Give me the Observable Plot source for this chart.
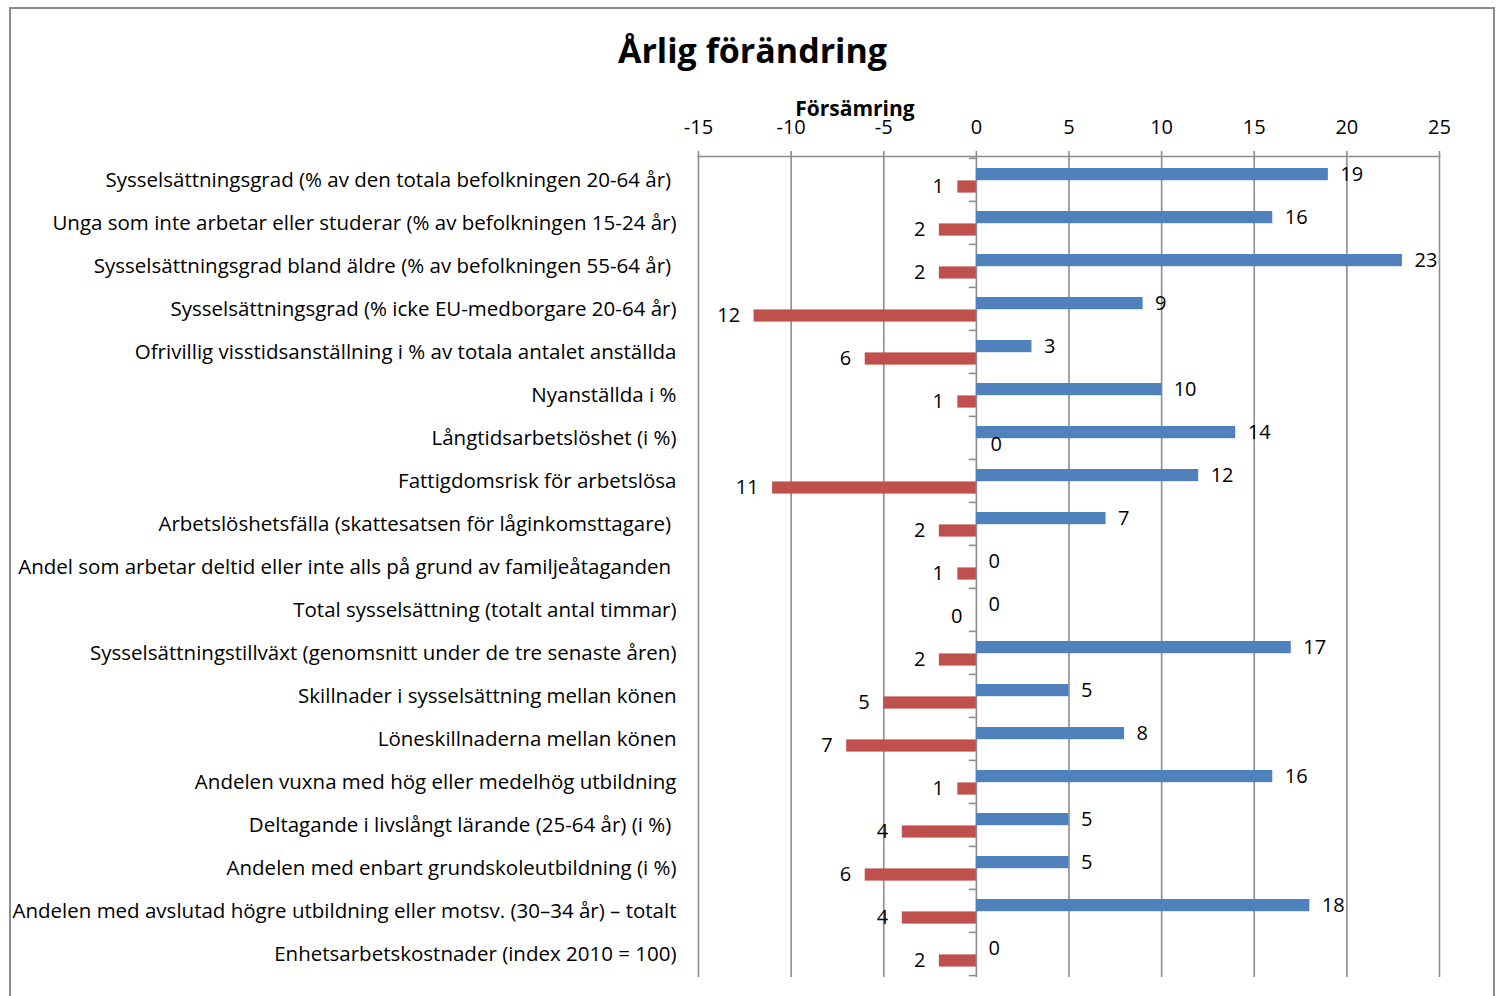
<!DOCTYPE html>
<html><head><meta charset="utf-8">
<script src="https://cdn.jsdelivr.net/npm/d3@7"></script>
<script src="https://cdn.jsdelivr.net/npm/@observablehq/plot@0.6"></script>
<style>
body{margin:0;background:#fff;font-family:"Open Sans",sans-serif;}
#wrap{position:relative;width:1496px;height:996px;overflow:hidden;background:#fff}
#border{position:absolute;left:9px;top:7px;width:1486px;height:1000px;border:2px solid #8c8c8c;box-sizing:border-box}
#title{position:absolute;left:9px;width:1487px;top:33px;text-align:center;font-weight:bold;font-size:34px;line-height:1;color:#000}
#sub{position:absolute;left:755px;width:200px;top:98px;text-align:center;font-weight:bold;font-size:21px;line-height:1;color:#000}
#chart{position:absolute;left:0;top:0}
</style></head>
<body>
<div id="wrap">
  <div id="border"></div>
  <div id="chart"></div>
  <div id="title">Årlig förändring</div>
  <div id="sub">Försämring</div>
</div>
<script>
const categories = [
  "Sysselsättningsgrad (% av den totala befolkningen 20-64 år) ",
  "Unga som inte arbetar eller studerar (% av befolkningen 15-24 år)",
  "Sysselsättningsgrad bland äldre (% av befolkningen 55-64 år) ",
  "Sysselsättningsgrad (% icke EU-medborgare 20-64 år)",
  "Ofrivillig visstidsanställning i % av totala antalet anställda",
  "Nyanställda i %",
  "Långtidsarbetslöshet (i %)",
  "Fattigdomsrisk för arbetslösa",
  "Arbetslöshetsfälla (skattesatsen för låginkomsttagare) ",
  "Andel som arbetar deltid eller inte alls på grund av familjeåtaganden ",
  "Total sysselsättning (totalt antal timmar)",
  "Sysselsättningstillväxt (genomsnitt under de tre senaste åren)",
  "Skillnader i sysselsättning mellan könen",
  "Löneskillnaderna mellan könen",
  "Andelen vuxna med hög eller medelhög utbildning",
  "Deltagande i livslångt lärande (25-64 år) (i %) ",
  "Andelen med enbart grundskoleutbildning (i %)",
  "Andelen med avslutad högre utbildning eller motsv. (30–34 år) – totalt",
  "Enhetsarbetskostnader (index 2010 = 100)"
];
// Blue series: number of member states improving
const improvement = [19, 16, 23, 9, 3, 10, 14, 12, 7, 0, 0, 17, 5, 8, 16, 5, 5, 18, 0];
// Red series: number of member states deteriorating (drawn to the left)
const deterioration = [1, 2, 2, 12, 6, 1, 0, 11, 2, 1, 0, 2, 5, 7, 1, 4, 6, 4, 2];
// Side on which the red value sits (-1 left of zero, +1 right of zero)
const deteriorationSide = [-1, -1, -1, -1, -1, -1, 1, -1, -1, -1, -1, -1, -1, -1, -1, -1, -1, -1, -1];
const xTicks = [-15, -10, -5, 0, 5, 10, 15, 20, 25];

const rows = categories.map((c, i) => ({
  c, up: improvement[i], dn: deterioration[i], side: deteriorationSide[i],
  down: deteriorationSide[i] * deterioration[i]
}));

const W = 1496, H = 996, mT = 156, mB = 19;
const bw = (H - mT - mB) / categories.length;
const h = 12.4, split = 0.8;
const grid = "#8c8c8c";

const chart = Plot.plot({
  width: W, height: H,
  marginLeft: 698, marginRight: 57, marginTop: mT, marginBottom: mB,
  style: {fontFamily: "'Open Sans', sans-serif", fontSize: "19px", background: "transparent", color: "#000", overflow: "visible"},
  x: {domain: [-15, 25], axis: null},
  y: {domain: categories, padding: 0, axis: null},
  marks: [
    Plot.ruleX(xTicks, {stroke: grid, strokeWidth: 1.6}),
    Plot.ruleY(categories, {y: d => d, dy: -bw / 2, x1: 0, x2: -0.38, stroke: grid, strokeWidth: 1.6}),
    Plot.ruleY([categories[categories.length - 1]], {y: d => d, dy: bw / 2, x1: 0, x2: -0.38, stroke: grid, strokeWidth: 1.6}),
    Plot.frame({anchor: "top", stroke: grid, strokeWidth: 1.6}),
    Plot.axisX({anchor: "top", ticks: xTicks, tickSize: 6, tickPadding: 17, tickFormat: d => String(d), stroke: grid, strokeWidth: 1.6, label: null, fontSize: 20}),
    Plot.axisY({anchor: "left", tickSize: 0, tickPadding: 22, label: null, fontSize: 20.5}),
    Plot.barX(rows, {y: "c", x: "up", fill: "#4F81BD", insetTop: bw / 2 - h + split, insetBottom: bw / 2 - split}),
    Plot.barX(rows, {y: "c", x: "down", fill: "#C0504D", insetTop: bw / 2 + split, insetBottom: bw / 2 - split - h}),
    Plot.text(rows, {y: "c", x: "up", text: d => String(d.up), dx: 12, dy: split - h / 2, textAnchor: "start", fontSize: 20}),
    Plot.text(rows.filter(d => d.side < 0), {y: "c", x: "down", text: d => String(d.dn), dx: -14, dy: split + h / 2, textAnchor: "end", fontSize: 20}),
    Plot.text(rows.filter(d => d.side > 0), {y: "c", x: "down", text: d => String(d.dn), dx: 14, dy: split + h / 2, textAnchor: "start", fontSize: 20})
  ]
});
document.getElementById("chart").appendChild(chart);
</script>
</body></html>
